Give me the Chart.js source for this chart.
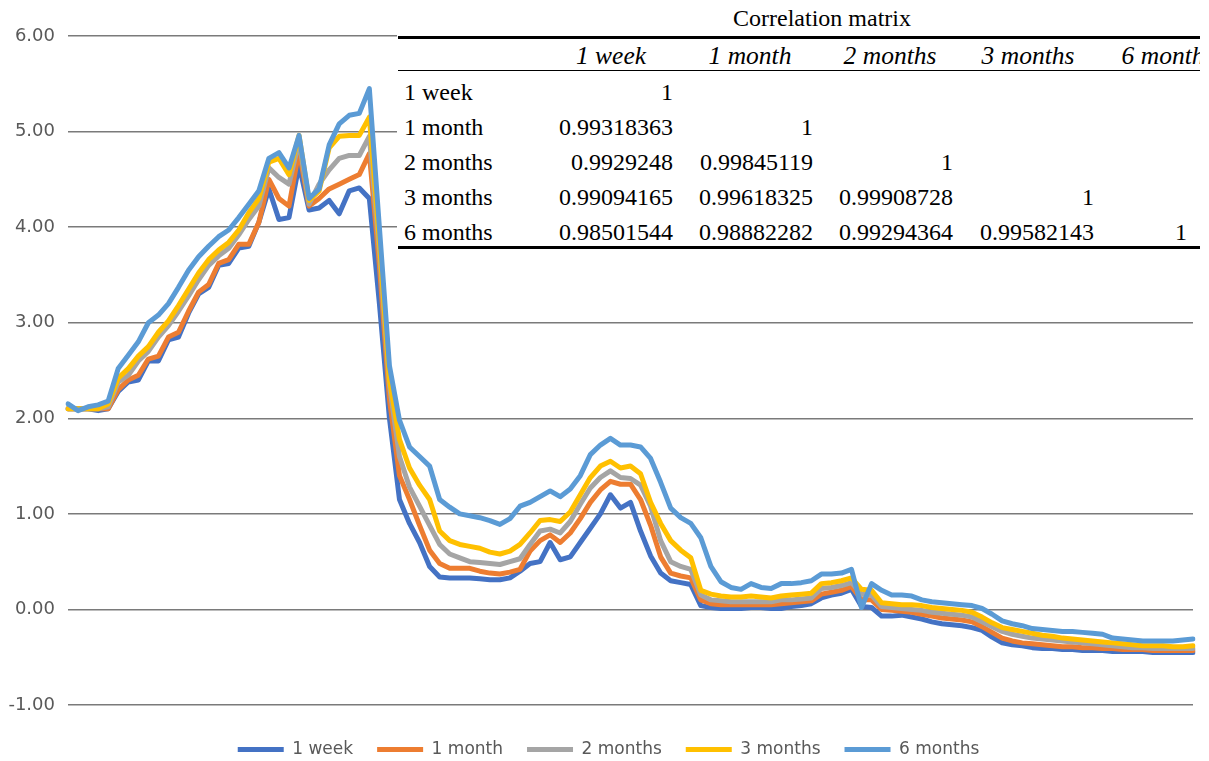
<!DOCTYPE html>
<html>
<head>
<meta charset="utf-8">
<title>Yield curves and correlation matrix</title>
<script src="https://cdn.jsdelivr.net/npm/chart.js@4.4.1/dist/chart.umd.min.js"></script>
<style>
  html, body { margin: 0; padding: 0; background: #ffffff; }
  #wrap { position: relative; width: 1209px; height: 761px; overflow: hidden; background: #ffffff; }
  #c { position: absolute; left: 0; top: 0; }
  #matrix {
    position: absolute; left: 397px; top: 0; width: 803px; height: 251px;
    background: #ffffff; overflow: hidden;
    font-family: "Liberation Serif", "Times New Roman", serif; font-size: 24px; color: #000;
  }
  #matrix .cell { position: absolute; height: 30px; line-height: 30px; white-space: nowrap; }
  #matrix .rule { position: absolute; left: 1px; right: 0; background: #000; }
  #matrix .hdr { font-style: italic; font-size: 25.5px; }
</style>
</head>
<body>
<div id="wrap">
  <canvas id="c" width="1209" height="761"></canvas>
  <div id="matrix"></div>
</div>
<script>
// Series names (legend and matrix labels)
const seriesNames = ['1 week', '1 month', '2 months', '3 months', '6 months'];
const seriesColors = ['#4472C4', '#ED7D31', '#A5A5A5', '#FFC000', '#5B9BD5'];

// Daily values, one array per horizon
const week = [
  2.1, 2.1, 2.1, 2.08, 2.1,
  2.28, 2.38, 2.4, 2.6, 2.6,
  2.82, 2.85, 3.1, 3.3, 3.37,
  3.6, 3.62, 3.78, 3.8, 4.05,
  4.4, 4.08, 4.1, 4.65, 4.18,
  4.2, 4.28, 4.14, 4.38, 4.41,
  4.3, 3.2, 2.0, 1.15, 0.9,
  0.7, 0.45, 0.34, 0.33, 0.33,
  0.33, 0.32, 0.31, 0.31, 0.33,
  0.4, 0.48, 0.5, 0.7, 0.52,
  0.55, 0.7, 0.85, 1.0, 1.2,
  1.06, 1.12, 0.82, 0.56, 0.38,
  0.3, 0.28, 0.26, 0.04, 0.02,
  0.01, 0.01, 0.01, 0.02, 0.02,
  0.01, 0.01, 0.03, 0.04, 0.06,
  0.12, 0.15, 0.17, 0.21, 0.03,
  0.02, -0.07, -0.07, -0.06, -0.08,
  -0.1, -0.13, -0.15, -0.16, -0.17,
  -0.19, -0.22, -0.29, -0.35, -0.37,
  -0.38, -0.4, -0.41, -0.41, -0.42,
  -0.42, -0.43, -0.43, -0.43, -0.44,
  -0.44, -0.44, -0.44, -0.45, -0.45,
  -0.45, -0.45, -0.45
];
const month1 = [
  2.1, 2.1, 2.1, 2.1, 2.1,
  2.3, 2.4, 2.45, 2.62, 2.65,
  2.85, 2.9, 3.12, 3.32, 3.4,
  3.62, 3.66, 3.82, 3.82, 4.05,
  4.5, 4.3, 4.22, 4.8, 4.22,
  4.3, 4.4, 4.45, 4.5, 4.55,
  4.77, 3.6, 2.2, 1.4, 1.15,
  0.88, 0.62, 0.48, 0.43, 0.43,
  0.43, 0.4, 0.38, 0.37, 0.39,
  0.42, 0.61, 0.72, 0.78, 0.7,
  0.8, 0.95, 1.12, 1.25, 1.34,
  1.31, 1.31, 1.15, 0.88, 0.55,
  0.38, 0.35, 0.33, 0.1, 0.06,
  0.05, 0.05, 0.05, 0.05, 0.05,
  0.05, 0.06, 0.07, 0.08, 0.09,
  0.16, 0.18, 0.2, 0.24, 0.1,
  0.1, 0.0, -0.01, -0.02, -0.03,
  -0.05, -0.07, -0.09, -0.1, -0.11,
  -0.13, -0.18, -0.24, -0.3, -0.33,
  -0.35, -0.36, -0.37, -0.38, -0.39,
  -0.39, -0.4, -0.4, -0.41, -0.41,
  -0.42, -0.42, -0.42, -0.43, -0.43,
  -0.43, -0.43, -0.43
];
const months2 = [
  2.1, 2.1, 2.1, 2.1, 2.12,
  2.38, 2.45, 2.6, 2.7, 2.85,
  2.97, 3.12, 3.28, 3.45, 3.6,
  3.7, 3.78, 3.92, 4.08, 4.22,
  4.62, 4.52, 4.45, 4.9, 4.24,
  4.45, 4.6, 4.72, 4.75, 4.75,
  4.95, 3.75, 2.35, 1.6, 1.28,
  1.08, 0.88, 0.68, 0.58, 0.54,
  0.5, 0.49, 0.48, 0.47, 0.5,
  0.53, 0.68, 0.82, 0.84, 0.8,
  0.92, 1.1, 1.27, 1.38, 1.45,
  1.38, 1.37, 1.3, 1.08, 0.72,
  0.5, 0.45, 0.42, 0.15, 0.1,
  0.09, 0.08, 0.08, 0.08, 0.08,
  0.08, 0.1, 0.1, 0.11, 0.12,
  0.22, 0.23, 0.25, 0.28, 0.16,
  0.15, 0.03, 0.02, 0.01, 0.0,
  -0.01, -0.03, -0.04, -0.05, -0.06,
  -0.08, -0.13, -0.18, -0.23, -0.26,
  -0.28, -0.3, -0.31, -0.32, -0.33,
  -0.34, -0.35, -0.36, -0.37, -0.38,
  -0.39, -0.4, -0.4, -0.41, -0.41,
  -0.41, -0.41, -0.41
];
const months3 = [
  2.1, 2.1, 2.1, 2.1, 2.15,
  2.42, 2.52, 2.65, 2.75, 2.9,
  3.02, 3.18, 3.35, 3.52, 3.66,
  3.76, 3.84, 3.97, 4.15, 4.3,
  4.68, 4.72, 4.55, 4.96, 4.28,
  4.38, 4.83, 4.95, 4.96, 4.96,
  5.15, 3.85, 2.4, 1.78, 1.48,
  1.3, 1.15, 0.82, 0.72, 0.68,
  0.66, 0.64, 0.6, 0.58, 0.61,
  0.68, 0.8, 0.93, 0.94, 0.92,
  1.02, 1.2, 1.38, 1.5, 1.55,
  1.48, 1.5, 1.42, 1.12, 0.9,
  0.72, 0.62, 0.54, 0.2, 0.16,
  0.14, 0.13, 0.13, 0.14, 0.13,
  0.12, 0.14, 0.15, 0.16, 0.17,
  0.27, 0.28, 0.3, 0.33, 0.21,
  0.2, 0.07, 0.06, 0.05, 0.05,
  0.04, 0.02, 0.01, 0.0, -0.01,
  -0.03, -0.08, -0.14, -0.19, -0.21,
  -0.23, -0.25, -0.27, -0.28, -0.3,
  -0.31, -0.32, -0.33, -0.34, -0.35,
  -0.36, -0.37, -0.38, -0.38, -0.38,
  -0.39, -0.39, -0.38
];
const months6 = [
  2.15, 2.08, 2.12, 2.14, 2.18,
  2.52, 2.66, 2.8, 3.0, 3.08,
  3.2, 3.37, 3.55, 3.69, 3.8,
  3.9, 3.97, 4.1, 4.24, 4.38,
  4.72, 4.78, 4.62, 4.96, 4.3,
  4.4, 4.86, 5.08, 5.17, 5.19,
  5.45, 4.0, 2.55, 1.98, 1.7,
  1.6, 1.5, 1.15, 1.07, 1.0,
  0.98, 0.96, 0.93, 0.89, 0.95,
  1.08, 1.12, 1.18, 1.24, 1.18,
  1.26, 1.4, 1.62, 1.72, 1.79,
  1.72, 1.72, 1.7, 1.58, 1.33,
  1.06, 0.96, 0.9, 0.75, 0.45,
  0.29, 0.23, 0.21, 0.27, 0.23,
  0.22, 0.27, 0.27, 0.28, 0.3,
  0.37, 0.37, 0.38, 0.42, 0.02,
  0.27, 0.2, 0.15, 0.15, 0.14,
  0.1, 0.08, 0.07, 0.06, 0.05,
  0.04, 0.01, -0.05, -0.12, -0.15,
  -0.17, -0.2, -0.21, -0.22, -0.23,
  -0.23, -0.24, -0.25, -0.26, -0.3,
  -0.31, -0.32, -0.33, -0.33, -0.33,
  -0.33, -0.32, -0.31
];
const seriesValues = [week, month1, months2, months3, months6];

// Value axis ticks
const yMin = -1, yMax = 6, yStep = 1;

// Correlation matrix (lower triangle, as printed)
const matrixTitle = 'Correlation matrix';
const corrRows = [
  ['1'],
  ['0.99318363', '1'],
  ['0.9929248', '0.99845119', '1'],
  ['0.99094165', '0.99618325', '0.99908728', '1'],
  ['0.98501544', '0.98882282', '0.99294364', '0.99582143', '1']
];

// Observation index used as the category axis
const days = week.map((_, i) => String(i + 1));

// Moves the bottom legend a little to the right of the canvas centre
const legendNudge = {
  id: 'legendNudge',
  afterLayout(chart) {
    if (chart.legend) { chart.legend.left += 10; chart.legend.right += 10; }
  }
};

// ---------- chart ----------
const fontUI = 'DejaVu Sans';
new Chart(document.getElementById('c'), {
  type: 'line',
  plugins: [legendNudge],
  data: {
    labels: days,
    datasets: seriesNames.map((name, k) => ({
      label: name,
      data: seriesValues[k],
      borderColor: seriesColors[k],
      backgroundColor: seriesColors[k],
      borderWidth: 5,
      pointRadius: 0,
      tension: 0,
      borderJoinStyle: 'round',
      borderCapStyle: 'round',
      order: seriesNames.length - 1 - k
    }))
  },
  options: {
    responsive: false,
    animation: false,
    devicePixelRatio: 1,
    layout: { padding: { left: 4, right: 16, top: 36, bottom: -7 } },
    plugins: {
      tooltip: { enabled: false },
      legend: {
        position: 'bottom',
        labels: {
          boxWidth: 46,
          boxHeight: 5,
          padding: 24,
          color: '#595959',
          font: { family: fontUI, size: 17 },
          sort: (a, b) => a.datasetIndex - b.datasetIndex,
          generateLabels(chart) {
            const items = Chart.defaults.plugins.legend.labels.generateLabels(chart);
            items.forEach(it => { it.lineWidth = 0; });
            return items;
          }
        }
      }
    },
    scales: {
      x: {
        type: 'category',
        display: true,
        grid: { display: false },
        border: { display: false },
        ticks: { display: false },
        afterFit(s) { s.height = 12; }
      },
      y: {
        min: yMin,
        max: yMax,
        ticks: {
          stepSize: yStep,
          callback: v => Number(v).toFixed(2),
          color: '#595959',
          font: { family: fontUI, size: 18 },
          padding: 13
        },
        grid: { color: '#7a7a7a', lineWidth: 1.4, drawTicks: false },
        border: { display: false },
        afterFit(s) { s.width = 64; }
      }
    }
  }
});

// ---------- correlation matrix overlay ----------
(function buildMatrix() {
  const box = document.getElementById('matrix');
  const X0 = 397;                       // page x of the block's left edge
  const colRight = [673, 813, 953, 1094, 1187];
  const colCenter = [611, 750, 890, 1028, 1168];
  const headerY = 56;
  const rowY = [92, 127, 162, 197, 232];

  function cell(text, cls, style) {
    const d = document.createElement('div');
    d.className = 'cell' + (cls ? ' ' + cls : '');
    d.textContent = text;
    Object.assign(d.style, style);
    box.appendChild(d);
  }
  function rule(top, h) {
    const r = document.createElement('div');
    r.className = 'rule';
    r.style.top = top + 'px';
    r.style.height = h + 'px';
    box.appendChild(r);
  }

  cell(matrixTitle, '', { left: (822 - X0 - 200) + 'px', width: '400px', textAlign: 'center', top: (18 - 15) + 'px' });
  rule(35.5, 3);
  seriesNames.forEach((name, j) => {
    cell(name, 'hdr', { left: (colCenter[j] - X0 - 100) + 'px', width: '200px', textAlign: 'center', top: (headerY - 15) + 'px' });
  });
  rule(69.5, 1.6);
  corrRows.forEach((vals, i) => {
    cell(seriesNames[i], '', { left: (404 - X0) + 'px', top: (rowY[i] - 15) + 'px' });
    vals.forEach((v, j) => {
      cell(v, '', { left: (colRight[j] - X0 - 200) + 'px', width: '200px', textAlign: 'right', top: (rowY[i] - 15) + 'px' });
    });
  });
  rule(246, 3);
})();
</script>
</body>
</html>
